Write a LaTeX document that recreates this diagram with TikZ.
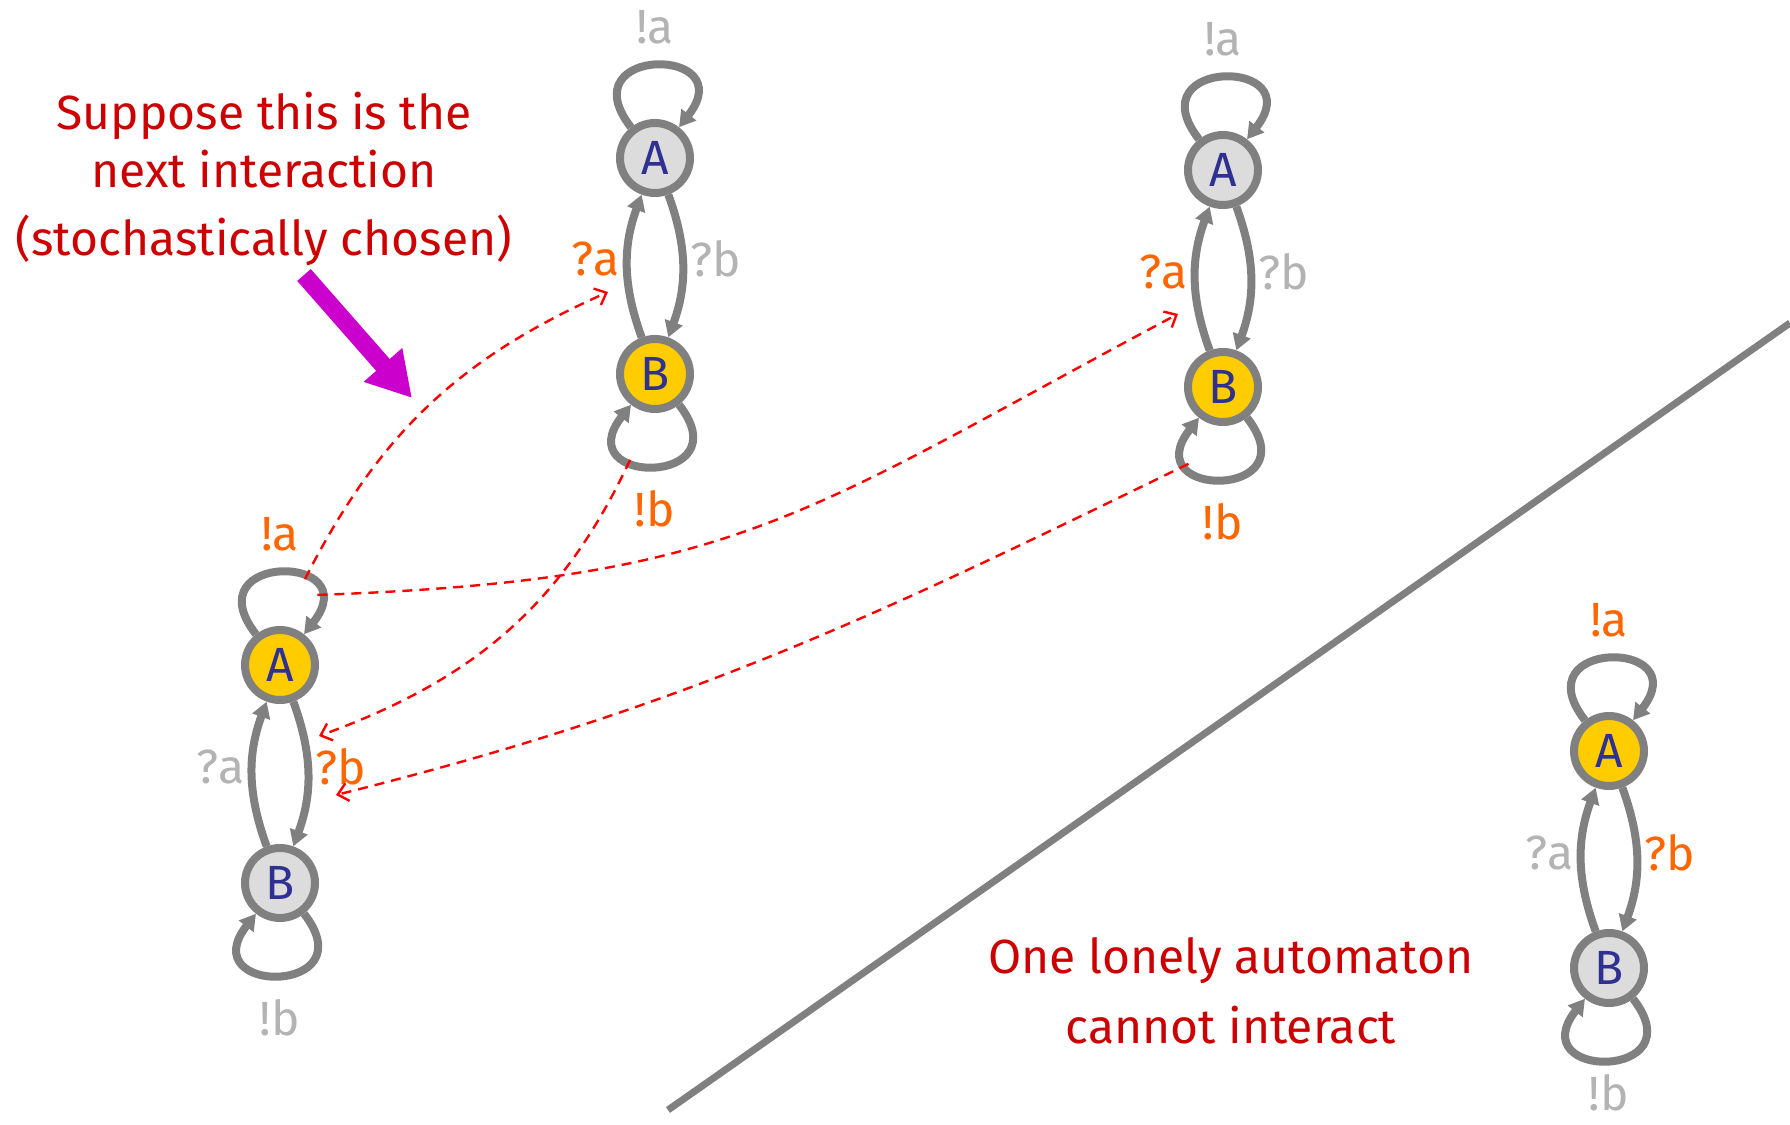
\documentclass[tikz,border=0pt]{standalone}
\usepackage{fontspec}
\setmainfont{Fira Sans}
\usetikzlibrary{arrows.meta}

\definecolor{stgray}{HTML}{808080}
\definecolor{idlegray}{HTML}{DCDCDC}
\definecolor{gold}{HTML}{FFCC00}
\definecolor{letterblue}{HTML}{2E3192}
\definecolor{liveorange}{HTML}{FF6600}
\definecolor{deadgray}{HTML}{B3B3B3}
\definecolor{notered}{HTML}{CC0000}
\definecolor{hintred}{HTML}{FF0000}
\definecolor{pointmag}{HTML}{CC00CC}

\tikzset{
  every node/.style={font=\fontsize{24}{29}\selectfont},
  state/.style={circle,draw=stgray,line width=4pt,minimum size=35pt,inner sep=0pt,text=letterblue},
  idlestate/.style={state,fill=idlegray},
  curstate/.style={state,fill=gold},
  trans/.style={draw=stgray,line width=4pt,-{Triangle[length=8pt,width=9pt]}},
  livelbl/.style={text=liveorange,inner sep=2pt},
  deadlbl/.style={text=deadgray,inner sep=2pt},
  hint/.style={draw=hintred,line width=1.2pt,dash pattern=on 5pt off 3.5pt,-{Straight Barb[length=5pt,width=9pt]}},
  pointer/.style={draw=pointmag,line width=9pt,-{Triangle[length=22pt,width=24pt]}},
  note/.style={align=center,text=notered,inner sep=0pt},
  divider/.style={draw=stgray,line width=3.5pt}
}

\begin{document}
\begin{tikzpicture}[x=0.5pt,y=0.5pt]
\useasboundingbox (0,0) rectangle (1790,1125);

% first pair, top
\node[idlestate] (A1) at (655,967) {A};
\node[curstate] (B1) at (655,751) {B};
\draw[trans] (A1) to[out=128,in=52,min distance=52pt] node[above=7pt,deadlbl] {!a} (A1);
\draw[trans] (B1) to[bend left=20] node[left,yshift=3.5pt,livelbl] {?a} (A1);
\draw[trans] (A1) to[bend left=20] node[right,yshift=3.5pt,deadlbl] {?b} (B1);
\draw[trans] (B1) to[out=-52,in=-128,min distance=52pt] node[below=8pt,livelbl] {!b} coordinate[pos=0.66] (B1s) (B1);

% second pair, top right
\node[idlestate] (A2) at (1223,955) {A};
\node[curstate] (B2) at (1223,738) {B};
\draw[trans] (A2) to[out=128,in=52,min distance=52pt] node[above=7pt,deadlbl] {!a} (A2);
\draw[trans] (B2) to[bend left=20] node[left,yshift=3.5pt,livelbl] {?a} (A2);
\draw[trans] (A2) to[bend left=20] node[right,yshift=3.5pt,deadlbl] {?b} (B2);
\draw[trans] (B2) to[out=-52,in=-128,min distance=52pt] node[below=8pt,livelbl] {!b} coordinate[pos=0.75] (B2s) (B2);

% the one that interacts, left
\node[curstate] (A3) at (280,460) {A};
\node[idlestate] (B3) at (280,242) {B};
\draw[trans] (A3) to[out=128,in=52,min distance=52pt] node[above=7pt,livelbl] {!a} coordinate[pos=0.66] (A3s) coordinate[pos=0.8] (A3t) (A3);
\draw[trans] (B3) to[bend left=20] node[left,yshift=3.5pt,deadlbl] {?a} (A3);
\draw[trans] (A3) to[bend left=20] node[right,yshift=3.5pt,livelbl] {?b} (B3);
\draw[trans] (B3) to[out=-52,in=-128,min distance=52pt] node[below=8pt,deadlbl] {!b} (B3);

% lonely one, bottom right
\node[curstate] (A4) at (1609,374) {A};
\node[idlestate] (B4) at (1609,157) {B};
\draw[trans] (A4) to[out=128,in=52,min distance=52pt] node[above=7pt,livelbl] {!a} (A4);
\draw[trans] (B4) to[bend left=20] node[left,yshift=3.5pt,deadlbl] {?a} (A4);
\draw[trans] (A4) to[bend left=20] node[right,yshift=3.5pt,livelbl] {?b} (B4);
\draw[trans] (B4) to[out=-52,in=-128,min distance=52pt] node[below=3pt,deadlbl] {!b} (B4);

% possible interactions
\coordinate (qa1) at (608,833);
\coordinate (qa2) at (1178,811);
\coordinate (qb3) at (319,389);
\coordinate (qb4) at (336,330);
\draw[hint] (A3s) to[out=63,in=-156] (qa1);
\draw[hint] (A3t) to[out=2,in=-152,looseness=1.2] (qa2);
\draw[hint] (B1s) to[out=-115,in=20] (qb3);
\draw[hint] (B2s) to[out=206,in=14] (qb4);

% texts
\node[note] (ask) at (264,946) {Suppose this is the\\next interaction\\[5pt](stochastically chosen)};
\coordinate (pt) at (304,850);
\coordinate (ph) at (412,727);
\draw[pointer] (pt) -- (ph);

\draw[divider] (668,15) -- (1790,802);
\node[note] (lone) at (1231,134) {One lonely automaton\\[6pt]cannot interact};
\end{tikzpicture}
\end{document}
